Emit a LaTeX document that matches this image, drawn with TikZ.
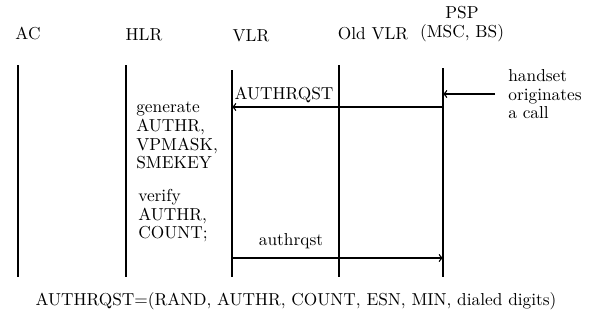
\documentclass[tikz,border=0pt]{standalone}
\usetikzlibrary{positioning}

\begin{document}
\begin{tikzpicture}[x=0.0211cm,y=-0.0211cm,every node/.style={font=\fontsize{10.4}{11.2}\selectfont}]
\useasboundingbox (0,0) rectangle (590,322);
\tikzset{lifeline/.style={line width=1.1pt},
  msg/.style={->,line width=0.8pt},
  note/.style={align=left,anchor=north west,inner sep=0pt}}

% Draw the column headings
  \node (ac) at (28,33) {AC};
  \node (hlr) at (144,35) {HLR};
  \node (vlr) at (251,36) {VLR};
  \node (oldvlr) at (373,34) {Old VLR};
  \node[align=center] (psp) at (462,24) {PSP\\(MSC, BS)};

% Draw the lifelines
  \coordinate (ac top) at (18,65);   \coordinate (ac bot) at (18,277);
  \coordinate (hlr top) at (126,65); \coordinate (hlr bot) at (126,277);
  \coordinate (vlr top) at (232,70); \coordinate (vlr bot) at (232,277);
  \coordinate (old top) at (339,65); \coordinate (old bot) at (339,277);
  \coordinate (psp top) at (443,68); \coordinate (psp bot) at (443,277);
  \draw[lifeline] (ac top) -- (ac bot);
  \draw[lifeline] (hlr top) -- (hlr bot);
  \draw[lifeline] (vlr top) -- (vlr bot);
  \draw[lifeline,line width=0.8pt] (old top) -- (old bot);
  \draw[lifeline] (psp top) -- (psp bot);

% The call comes in at the PSP
  \node[note] (handset) at (508,69) {handset\\originates\\a call};
  \coordinate (call) at (495,94);
  \coordinate (psp call) at (443,94);
  \draw[msg] (call) -- (psp call);

% AUTHRQST from PSP to VLR
  \coordinate (req from) at (443,107);
  \coordinate (req to) at (232,107);
  \draw[msg] (req from) -- (req to);
  \node (authrqst) at (284,95) {AUTHRQST};

% What the HLR does
  \node[note] (generate) at (136,102) {generate\\AUTHR,\\VPMASK,\\SMEKEY};
  \node[note] (verify) at (138,189) {verify\\AUTHR,\\COUNT;};

% authrqst from VLR to PSP
  \coordinate (ans from) at (232,258);
  \coordinate (ans to) at (443,258);
  \draw[msg] (ans from) -- (ans to);
  \node (small) at (291,241) {authrqst};

% The parameters
  \node (params) at (296,301) {AUTHRQST=(RAND, AUTHR, COUNT, ESN, MIN, dialed digits)};
\end{tikzpicture}
\end{document}
